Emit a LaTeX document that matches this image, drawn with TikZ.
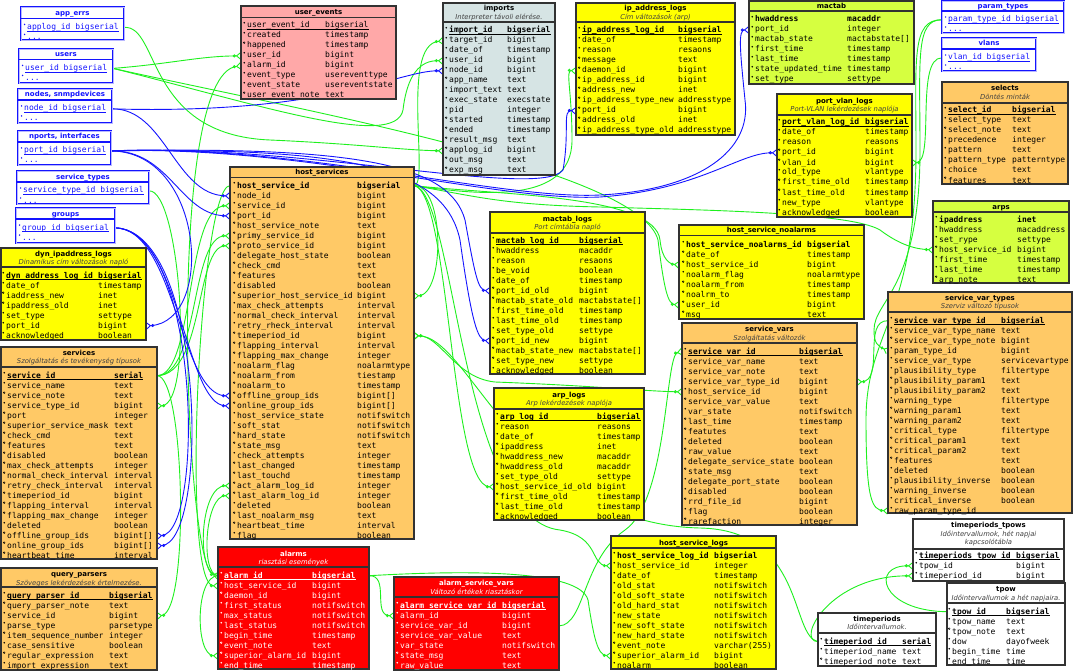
\documentclass[tikz,border=0pt]{standalone}
\usepackage{fontspec}
\setmainfont{DejaVu Sans}
\setmonofont{DejaVu Sans Mono}
\usetikzlibrary{arrows.meta,calc}
\pgfdeclarelayer{bg}
\pgfsetlayers{bg,main}
\definecolor{cyel}{RGB}{255,255,0}
\definecolor{clime}{RGB}{214,255,64}
\definecolor{corange}{RGB}{255,201,102}
\definecolor{cpink}{RGB}{255,168,168}
\definecolor{cgrey}{RGB}{214,228,228}
\definecolor{cred}{RGB}{255,0,0}
\definecolor{cblue}{RGB}{20,20,255}
\definecolor{cgreen}{RGB}{30,240,30}
\definecolor{cborder}{RGB}{50,50,50}
\tikzset{
  box/.style={draw=cborder, line width=1.2pt, inner sep=0pt, outer sep=0pt},
  bbox/.style={draw=cblue, fill=white, line width=0.9pt, double=cblue!30, double distance=0.7pt, inner sep=0pt, outer sep=0pt},
  sepl/.style={draw=cborder, line width=1.5pt},
  fld/.style={font=\ttfamily\fontsize{8}{9}\selectfont, inner sep=0pt},
  ttlf/.style={font=\bfseries\fontsize{7}{8}\selectfont, inner sep=0pt, anchor=base},
  subf/.style={font=\itshape\fontsize{6.8}{7.5}\selectfont, inner sep=0pt, anchor=base, text=black!75},
  rel/.style={draw=cgreen, line width=0.9pt, -{Circle[open,length=3pt,width=3pt,sep=0pt] Straight Barb[reversed,length=4pt,width=6.5pt]}},
  rel2/.style={draw=cgreen, line width=0.9pt, {Straight Barb[reversed,length=4pt,width=6.5pt] Circle[open,length=3pt,width=3pt,sep=0pt]}-{Circle[open,length=3pt,width=3pt,sep=0pt] Straight Barb[reversed,length=4pt,width=6.5pt]}},
  brel/.style={rel, draw=cblue},
}
% table: name, x, y, w, h, style, sep y, title baseline, title
\newcommand\tbl[9]{%
  \node[box,#6,anchor=north west,minimum width=#4pt,minimum height=#5pt] (#1) at (#2,#3) {};
  \draw[sepl] (#2,#7) -- ++(#4,0);
  \node[ttlf] (#1-title) at (#2+#4/2,#8) {#9};
}
% rows: name, x field, x type, y first row, list mark/field/type
\newcommand\rows[5]{%
  \foreach \mk/\fn/\ty [count=\ri from 0] in {#5}{%
    \pgfmathsetmacro\yy{#4+10*\ri}%
    \if\mk o\draw[line width=0.45pt] (#2-2.8,\yy-2.3) circle[radius=0.9pt];\else\fill (#2-2.8,\yy-2.3) circle[radius=0.85pt];\fi
    \node[fld,anchor=base west] (#1-f\ri) at (#2,\yy+3) {\if\mk p\bfseries\fi\if\mk b\bfseries\fi\fn};
    \node[fld,anchor=base west] (#1-t\ri) at (#3,\yy+3) {\if\mk p\bfseries\fi\if\mk b\bfseries\fi\ty};
    \if\mk p\draw[line width=0.5pt] ($(#1-f\ri.base west)+(0,1.5)$) -- ($(#1-t\ri.base east)+(0,1.5)$);\fi
    \if\mk u\draw[line width=0.5pt] ($(#1-f\ri.base west)+(0,1.5)$) -- ($(#1-t\ri.base east)+(0,1.5)$);\fi
  }%
}
% blue reference table: name, x, y, w, h, sep y, title, row text
\newcommand\btbl[8]{%
  \node[bbox,anchor=north west,minimum width=#4pt,minimum height=#5pt] (#1) at (#2,#3) {};
  \draw[cblue,line width=1.4pt] (#2,#6) -- ++(#4,0);
  \node[ttlf,text=cblue] (#1-title) at (#2+#4/2,#3/2+#6/2+2.5) {#7};
  \fill[cblue] (#2+3.6,#6+6) circle[radius=0.85pt];
  \node[fld,text=cblue,anchor=base west] (#1-f0) at (#2+6,#6+11) {#8};
  \draw[cblue,line width=0.5pt] ($(#1-f0.base west)+(0,1.5)$) -- ($(#1-f0.base east)+(0,1.5)$);
  \fill[cblue] (#2+3.6,#6+16) circle[radius=0.85pt];
  \node[fld,text=cblue,anchor=base west] (#1-f1) at (#2+6,#6+21) {...};
}
\begin{document}
\catcode`\_=12
\begin{tikzpicture}[x=1pt,y=-1pt]
\useasboundingbox (0,0) rectangle (1075,671);

% ---------- blue reference tables ----------
\btbl{ae}{21}{7}{103}{33}{18.5}{app_errs}{applog_id bigserial}
\btbl{us}{19}{49}{94}{34}{59.5}{users}{user_id bigserial}
\btbl{nd}{18}{89}{94}{34}{100}{nodes, snmpdevices}{node_id bigserial}
\btbl{np}{18}{131}{93}{34}{142}{nports, interfaces}{port_id bigserial}
\btbl{st}{17}{171}{132}{33}{182}{service_types}{service_type_id bigserial}
\btbl{gr}{16}{208}{99}{35}{219}{groups}{group_id bigserial}
\btbl{pt}{942}{1}{122}{32}{11}{param_types}{param_type_id bigserial}
\btbl{vl}{942}{38}{94}{33}{49}{vlans}{vlan_id bigserial}

% ---------- user_events ----------
\tbl{ue}{241}{6}{155}{93}{fill=cpink}{17.5}{14.5}{user_events}
\rows{ue}{247}{325}{25}{u/user_event_id/bigserial, f/created/timestamp, o/happened/timestamp, f/user_id/bigint, f/alarm_id/bigint, f/event_type/usereventtype, f/event_state/usereventstate, o/user_event_note/text}

% ---------- imports ----------
\tbl{im}{443}{3}{112}{172}{fill=cgrey}{22}{11}{imports}
\node[subf] (im-sub) at (499,19.5) {Interpreter távoli elérése.};
\rows{im}{449}{507}{30}{p/import_id/bigserial, f/target_id/bigint, f/date_of/timestamp, f/user_id/bigint, f/node_id/bigint, o/app_name/text, f/import_text/text, f/exec_state/execstate, f/pid/integer, o/started/timestamp, o/ended/timestamp, o/result_msg/text, o/applog_id/bigint, o/out_msg/text, o/exp_msg/text}

% ---------- ip_address_logs ----------
\tbl{ip}{576}{3}{159}{132}{fill=cyel}{22}{11}{ip_address_logs}
\node[subf] (ip-sub) at (655.5,19.5) {Cím változások (arp)};
\rows{ip}{582}{678}{30}{p/ip_address_log_id/bigserial, f/date_of/timestamp, f/reason/resaons, o/message/text, o/daemon_id/bigint, o/ip_address_id/bigint, o/address_new/inet, o/ip_address_type_new/addresstype, o/port_id/bigint, o/address_old/inet, o/ip_address_type_old/addresstype}

% ---------- mactab ----------
\tbl{mt}{749}{1}{165}{83}{fill=clime}{11}{8.5}{mactab}
\rows{mt}{755}{847}{19}{b/hwaddress/macaddr, f/port_id/integer, f/mactab_state/mactabstate[], f/first_time/timestamp, f/last_time/timestamp, f/state_updated_time/timestamp, f/set_type/settype}

% ---------- port_vlan_logs ----------
\tbl{pv}{777}{94}{135}{123}{fill=cyel}{115}{103.5}{port_vlan_logs}
\node[subf] (pv-sub) at (844.5,111.5) {Port-VLAN lekérdezések naplója};
\rows{pv}{782}{865}{122}{p/port_vlan_log_id/bigserial, f/date_of/timestamp, f/reason/reasons, o/port_id/bigint, o/vlan_id/bigint, f/old_type/vlantype, o/first_time_old/timestamp, o/last_time_old/timestamp, f/new_type/vlantype, f/acknowledged/boolean}

% ---------- selects ----------
\tbl{se}{942}{82}{126}{102}{fill=corange}{103}{90.5}{selects}
\node[subf] (se-sub) at (1005,99.5) {Döntés minták};
\rows{se}{948}{1012}{110}{p/select_id/bigserial, f/select_type/text, o/select_note/text, f/precedence/integer, f/pattern/text, f/pattern_type/patterntype, f/choice/text, o/features/text}

% ---------- arps ----------
\tbl{ar}{933}{201}{136}{82}{fill=clime}{212}{209}{arps}
\rows{ar}{939}{1017}{219}{b/ipaddress/inet, f/hwaddress/macaddress, f/set_rype/settype, o/host_service_id/bigint, f/first_time/timestamp, f/last_time/timestamp, o/arp_note/text}

% ---------- service_var_types ----------
\tbl{svt}{888}{292}{184}{221}{fill=corange}{312}{300.5}{service_var_types}
\node[subf] (svt-sub) at (980,308.5) {Szerviz változó típusok};
\rows{svt}{894}{1001}{320}{p/service_var_type_id/bigserial, f/service_var_type_name/text, o/service_var_type_note/bigint, f/param_type_id/bigint, f/service_var_type/servicevartype, f/plausibility_type/filtertype, o/plausibility_param1/text, o/plausibility_param2/text, f/warning_type/filtertype, o/warning_param1/text, o/warning_param2/text, f/critical_type/filtertype, o/critical_param1/text, o/critical_param2/text, o/features/text, f/deleted/boolean, f/plausibility_inverse/boolean, f/warning_inverse/boolean, f/critical_inverse/boolean, f/raw_param_type_id/}

% ---------- host_services ----------
\tbl{hs}{230}{167}{184}{372}{fill=corange}{177.5}{174.5}{host_services}
\rows{hs}{237}{357}{185}{b/host_service_id/bigserial, f/node_id/bigint, f/service_id/bigint, o/port_id/bigint, o/host_service_note/text, o/primy_service_id/bigint, o/proto_service_id/bigint, f/delegate_host_state/boolean, o/check_cmd/text, o/features/text, f/disabled/boolean, o/superior_host_service_id/bigint, f/max_check_attempts/interval, f/normal_check_interval/interval, f/retry_rheck_interval/interval, o/timeperiod_id/bigint, o/flapping_interval/interval, o/flapping_max_change/integer, f/noalarm_flag/noalarmtype, o/noalarm_from/tiestamp, o/noalarm_to/timestamp, o/offline_group_ids/bigint[], o/online_group_ids/bigint[], f/host_service_state/notifswitch, f/soft_stat/notifswitch, o/hard_state/notifswitch, o/state_msg/text, f/check_attempts/integer, o/last_changed/timestamp, o/last_touchd/timestamp, o/act_alarm_log_id/integer, o/last_alarm_log_id/integer, f/deleted/boolean, o/last_noalarm_msg/text, o/heartbeat_time/interval, f/flag/boolean}

% ---------- mactab_logs ----------
\tbl{ml}{490}{212}{155}{162}{fill=cyel}{233}{221.5}{mactab_logs}
\node[subf] (ml-sub) at (567.5,229.5) {Port címtábla napló};
\rows{ml}{496}{579}{240}{p/mactab_log_id/bigserial, f/hwaddress/macaddr, f/reason/resaons, f/be_void/boolean, f/date_of/timestamp, o/port_id_old/bigint, o/mactab_state_old/mactabstate[], f/first_time_old/timestamp, f/last_time_old/timestamp, f/set_type_old/settype, o/port_id_new/bigint, o/mactab_state_new/mactabstate[], o/set_type_new/settype, f/acknowledged/boolean}

% ---------- arp_logs ----------
\tbl{al}{494}{388}{150}{132}{fill=cyel}{409}{397.5}{arp_logs}
\node[subf] (al-sub) at (569,405.5) {Arp lekérdezések naplója};
\rows{al}{500}{597}{416}{p/arp_log_id/bigserial, f/reason/reasons, f/date_of/timestamp, o/ipaddress/inet, o/hwaddress_new/macaddr, o/hwaddress_old/macaddr, f/set_type_old/settype, o/host_service_id_old/bigint, o/first_time_old/timestamp, o/last_time_old/timestamp, o/acknowledged/boolean}

% ---------- host_service_noalarms ----------
\tbl{hn}{679}{225}{185}{94}{fill=cyel}{235.5}{232.5}{host_service_noalarms}
\rows{hn}{686}{807}{244}{b/host_service_noalarms_id/bigserial, o/date_of/timestamp, o/host_service_id/bigint, f/noalarm_flag/noalarmtype, o/noalarm_from/timestamp, o/noalrm_to/timestamp, o/user_id/bigint, o/msg/text}

% ---------- service_vars ----------
\tbl{svv}{682}{323}{175}{202}{fill=corange}{343}{331.5}{service_vars}
\node[subf] (svv-sub) at (769.5,340.5) {Szolgáltatás változók};
\rows{svv}{688}{799}{351}{p/service_var_id/bigserial, f/service_var_name/text, f/service_var_note/text, f/service_var_type_id/bigint, f/host_service_id/bigint, o/service_var_value/text, f/var_state/notifswitch, o/last_time/timestamp, o/featutes/text, f/deleted/boolean, o/raw_value/text, f/delegate_service_state/boolean, o/state_msg/text, f/delegate_port_state/boolean, f/disabled/boolean, o/rrd_file_id/bigint, f/flag/boolean, o/rarefaction/integer}

% ---------- host_service_logs ----------
\tbl{hl}{611}{536}{165}{133}{fill=cyel}{548}{545}{host_service_logs}
\rows{hl}{617}{714}{555}{b/host_service_log_id/bigserial, f/host_service_id/integer, f/date_of/timestamp, f/old_stat/notifswitch, f/old_soft_state/notifswitch, f/old_hard_stat/notifswitch, f/new_state/notifswitch, f/new_soft_state/notifswitch, f/new_hard_state/notifswitch, o/event_note/varchar(255), o/superior_alarm_id/bigint, f/noalarm/boolean}

% ---------- timeperiods_tpows ----------
\tbl{tt}{913}{519}{151}{62}{fill=white}{549}{527.5}{timeperiods_tpows}
\node[subf] (tt-sub) at (988.5,536.5) {Időintervallumok, hét napjai};
\node[subf] (tt-sub2) at (988.5,544.5) {kapcsolótábla};
\rows{tt}{919}{1016}{555}{p/timeperiods_tpow_id/bigserial, f/tpow_id/bigint, f/timeperiod_id/bigint}

% ---------- tpow ----------
\tbl{tw}{947}{583}{118}{82}{fill=white}{603}{591.5}{tpow}
\node[subf] (tw-sub) at (1006,600.5) {Időintervallumok a hét napjaira.};
\rows{tw}{952}{1006}{611}{p/tpow_id/bigserial, f/tpow_name/text, o/tpow_note/text, f/dow/dayofweek, f/begin_time/time, f/end_time/time}

% ---------- timeperiods ----------
\tbl{tp}{818}{613}{118}{53}{fill=white}{633}{621.5}{timeperiods}
\node[subf] (tp-sub) at (877,629.5) {Időintervallumok.};
\rows{tp}{824}{902}{641}{p/timeperiod_id/serial, f/timeperiod_name/text, o/timeperiod_note/text}

% ---------- dyn_ipaddress_logs ----------
\tbl{dy}{1}{248}{145}{92}{fill=cyel}{267}{256.5}{dyn_ipaddress_logs}
\node[subf] (dy-sub) at (73.5,264.5) {Dinamikus cím változások napló};
\rows{dy}{6}{98}{275}{p/dyn_address_log_id/bigserial, f/date_of/timestamp, o/iaddress_new/inet, o/ipaddress_old/inet, f/set_type/settype, f/port_id/bigint, f/acknowledged/boolean}

% ---------- services ----------
\tbl{sv}{1}{347}{156}{212}{fill=corange}{367}{355.5}{services}
\node[subf] (sv-sub) at (79,363.5) {Szolgáltatás és tevékenység típusok};
\rows{sv}{7}{114}{375}{p/service_id/serial, f/service_name/text, o/service_note/text, f/service_type_id/bigint, o/port/integer, o/superior_service_mask/text, o/check_cmd/text, o/features/text, o/disabled/boolean, o/max_check_attempts/integer, o/normal_check_interval/interval, o/retry_check_interval/interval, o/timeperiod_id/bigint, o/flapping_interval/interval, o/flapping_max_change/integer, f/deleted/boolean, o/offline_group_ids/bigint[], o/online_group_ids/bigint[], o/heartbeat_time/interval}

% ---------- query_parsers ----------
\tbl{qp}{1}{568}{156}{102}{fill=corange}{587}{576.5}{query_parsers}
\node[subf] (qp-sub) at (79,585.5) {Szöveges lekérdezések értelmezése.};
\rows{qp}{7}{109}{595}{p/query_parser_id/bigserial, o/query_parser_note/text, f/service_id/bigint, f/parse_type/parsetype, o/item_sequence_number/integer, f/case_sensitive/boolean, o/regular_expression/text, f/import_expression/text}

% ---------- alarms (red) ----------
\begin{scope}[color=white]
\tbl{alm}{218}{547}{151}{122}{fill=cred}{567}{556.5}{alarms}
\node[subf,text=white] (alm-sub) at (293.5,564.5) {riasztási események};
\rows{alm}{224}{312}{575}{p/alarm_id/bigserial, f/host_service_id/bigint, o/daemon_id/bigint, f/first_status/notifswitch, f/max_status/notifswitch, f/last_status/notifswitch, f/begin_time/timestamp, o/event_note/text, o/superior_alarm_id/bigint, f/end_time/timestamp}
\tbl{asv}{394}{577}{165}{93}{fill=cred}{597}{585.5}{alarm_service_vars}
\node[subf,text=white] (asv-sub) at (476.5,594.5) {Változó értékek riasztáskor};
\rows{asv}{400}{502}{605}{p/alarm_service_var_id/bigserial, f/alarm_id/bigint, f/service_var_id/bigint, f/service_var_value/text, f/var_state/notifswitch, o/state_msg/text, f/raw_value/text}
\end{scope}

% ---------- connectors ----------
\begin{pgfonlayer}{bg}
\fill[white] (0,0) rectangle (1075,671);
% green
\draw[rel] (ae-f0 -| ae.east) .. controls (160,25) and (145,135) .. (270,140) .. controls (360,144) and (400,150) .. (im-f12 -| im.west);
\draw[rel] (us-f0 -| us.east) .. controls (170,64) and (200,56) .. (ue-f3 -| ue.west);
\draw[rel] (us-f0 -| us.east) .. controls (260,105) and (395,150) .. (403,110) .. controls (407,75) and (420,60) .. (im-f3 -| im.west);
\draw[rel] (us-f0 -| us.east) .. controls (300,110) and (640,170) .. (658,240) .. controls (664,290) and (668,304) .. (hn-f6 -| hn.west);
\draw[rel2] (alm-f0 -| alm.west) .. controls (185,570) and (165,75) .. (ue-f4 -| ue.west);
\draw[rel] (sv-f0 -| sv.east) .. controls (195,375) and (185,205) .. (hs-f2 -| hs.west);
\draw[rel] (sv-f0 -| sv.east) .. controls (200,375) and (190,235) .. (hs-f5 -| hs.west);
\draw[rel] (sv-f0 -| sv.east) .. controls (205,375) and (195,245) .. (hs-f6 -| hs.west);
\draw[rel] (sv-f0 -| sv.east) .. controls (185,375) and (190,613) .. (qp-f2 -| qp.east);
\draw[rel] (st-f0 -| st.east) .. controls (180,189) and (195,405) .. (sv-f3 -| sv.east);
\draw[rel] (hs-f0 -| hs.west) .. controls (200,185) and (180,585) .. (alm-f1 -| alm.west);
\draw[rel] (alm-f0 -| alm.west) .. controls (195,575) and (200,485) .. (hs-f30 -| hs.west);
\draw[rel] (alm-f0 -| alm.west) .. controls (200,575) and (205,495) .. (hs-f31 -| hs.west);
\draw[rel] (alm-f0 -| alm.west) .. controls (195,576) and (195,655) .. (alm-f8 -| alm.west);
\draw[rel] (hs-f0 -| hs.east) .. controls (430,185) and (400,45) .. (im-f1 -| im.west);
\draw[rel] (hs-f0 -| hs.east) .. controls (480,195) and (572,205) .. (572,140) .. controls (572,90) and (565,70) .. (ip-f4 -| ip.west);
\draw[rel] (hs-f0 -| hs.east) .. controls (445,185) and (445,295) .. (hs-f11 -| hs.east);
\draw[rel] (hs-f0 -| hs.east) .. controls (470,195) and (500,205) .. (600,207) .. controls (700,210) and (850,212) .. (880,230) .. controls (900,245) and (915,249) .. (ar-f3 -| ar.west);
\draw[rel] (hs-f0 -| hs.east) .. controls (500,195) and (655,195) .. (660,240) .. controls (662,260) and (670,264) .. (hn-f2 -| hn.west);
\draw[rel2] (hs-f15 -| hs.east) .. controls (440,335) and (455,378) .. (495,382) .. controls (600,386) and (640,391) .. (svv-f4 -| svv.west);
\draw[rel] (hs-f0 -| hs.east) .. controls (450,190) and (450,486) .. (al-f7 -| al.west);
\draw[rel] (hs-f0 -| hs.east) .. controls (455,190) and (460,520) .. (560,530) .. controls (600,537) and (590,565) .. (hl-f1 -| hl.west);
\draw[rel] (tp-f0 -| tp.west) .. controls (790,636) and (805,530) .. (700,528) .. controls (520,524) and (470,335) .. (hs-f15 -| hs.east);
\draw[rel] (tp-f0 -| tp.west) .. controls (795,641) and (830,575) .. (tt-f2 -| tt.west);
\draw[rel] (tw-f0 -| tw.west) .. controls (880,611) and (870,565) .. (tt-f1 -| tt.west);
\draw[rel] (alm-f0 -| alm.east) .. controls (390,575) and (372,615) .. (asv-f1 -| asv.west);
\draw[rel] (alm-f0 -| alm.east) .. controls (470,570) and (580,570) .. (588,600) .. controls (594,640) and (598,655) .. (hl-f10 -| hl.west);
\draw[rel] (asv-f2 -| asv.east) .. controls (585,625) and (582,560) .. (625,530) .. controls (668,500) and (665,355) .. (svv-f0 -| svv.west);
\draw[rel] (svt-f0 -| svt.west) .. controls (862,320) and (885,381) .. (svv-f3 -| svv.east);
\draw[rel] (pt-f0 -| pt.west) .. controls (915,19) and (920,60) .. (920,150) .. controls (920,290) and (874,300) .. (874,330) .. controls (874,344) and (878,346) .. (svt-f3 -| svt.west);
\draw[rel] (pt-f0 -| pt.west) .. controls (911,19) and (916,60) .. (916,150) .. controls (916,320) and (866,330) .. (866,420) .. controls (866,500) and (872,510) .. (svt-f19 -| svt.west);
\draw[rel] (vl-f0 -| vl.west) .. controls (915,57) and (935,162) .. (pv-f4 -| pv.east);
% blue
\draw[brel] (nd-f0 -| nd.east) .. controls (330,115) and (400,70) .. (im-f4 -| im.west);
\draw[brel] (nd-f0 -| nd.east) .. controls (165,108) and (175,195) .. (hs-f1 -| hs.west);
\draw[brel] (np-f0 -| np.east) .. controls (170,150) and (180,215) .. (hs-f3 -| hs.west);
\draw[brel] (np-f0 -| np.east) .. controls (205,152) and (215,322) .. (dy-f5 -| dy.east);
\draw[brel] (np-f0 -| np.east) .. controls (300,143) and (540,200) .. (563,170) .. controls (570,130) and (562,110) .. (ip-f8 -| ip.west);
\draw[brel] (np-f0 -| np.east) .. controls (300,144) and (500,200) .. (600,195) .. controls (700,190) and (752,150) .. (745,100) .. controls (740,50) and (738,30) .. (mt-f1 -| mt.west);
\draw[brel] (np-f0 -| np.east) .. controls (300,145) and (500,202) .. (600,197) .. controls (700,190) and (740,152) .. (pv-f3 -| pv.west);
\draw[brel] (np-f0 -| np.east) .. controls (360,146) and (450,165) .. (465,220) .. controls (475,275) and (478,290) .. (ml-f5 -| ml.west);
\draw[brel] (np-f0 -| np.east) .. controls (360,147) and (445,170) .. (460,240) .. controls (472,325) and (478,340) .. (ml-f10 -| ml.west);
\draw[brel] (gr-f0 -| gr.east) .. controls (175,228) and (180,395) .. (hs-f21 -| hs.west);
\draw[brel] (gr-f0 -| gr.east) .. controls (180,228) and (185,405) .. (hs-f22 -| hs.west);
\draw[brel] (gr-f0 -| gr.east) .. controls (200,230) and (205,533) .. (sv-f16 -| sv.east);
\draw[brel] (gr-f0 -| gr.east) .. controls (205,230) and (210,543) .. (sv-f17 -| sv.east);
\end{pgfonlayer}
\end{tikzpicture}
\end{document}
